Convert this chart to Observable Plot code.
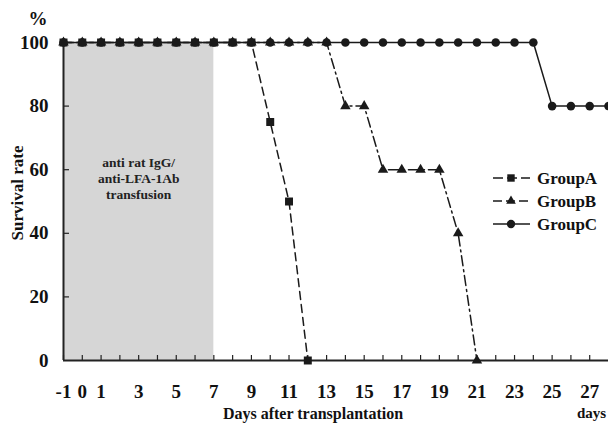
<!DOCTYPE html>
<html><head><meta charset="utf-8">
<script src="https://cdn.jsdelivr.net/npm/d3@7"></script>
<script src="https://cdn.jsdelivr.net/npm/@observablehq/plot@0.6"></script>
<style>
body{margin:0;background:#fff;}
#wrap{position:relative;width:608px;height:423px;overflow:hidden;background:#fff;}
#wrap svg{position:absolute;left:0;top:0;}
</style></head><body><div id="wrap"></div>
<script>
// ---- data ----
const daysA = [-1,0,1,2,3,4,5,6,7,8,9,10,11,12];
const survivalA = [100,100,100,100,100,100,100,100,100,100,100,75,50,0];
const daysB = [-1,0,1,2,3,4,5,6,7,8,9,10,11,12,13,14,15,16,17,18,19,20,21];
const survivalB = [100,100,100,100,100,100,100,100,100,100,100,100,100,100,100,80,80,60,60,60,60,40,0];
const daysC = [-1,0,1,2,3,4,5,6,7,8,9,10,11,12,13,14,15,16,17,18,19,20,21,22,23,24,25,26,27,28];
const survivalC = [100,100,100,100,100,100,100,100,100,100,100,100,100,100,100,100,100,100,100,100,100,100,100,100,100,100,80,80,80,80];
const groupNames = ["GroupA","GroupB","GroupC"];
const tickDays = [-1,0,1,2,3,4,5,6,7,8,9,10,11,12,13,14,15,16,17,18,19,20,21,22,23,24,25,26,27];
const labelDays = [-1,0,1,3,5,7,9,11,13,15,17,19,21,23,25,27];
const yTicks = [0,20,40,60,80,100];
const yMinorTicks = [20,40,60,80];
const transfusionWindow = [{start:-1, end:7}];
const annotation = [{day:3, rate:57.5, text:"anti rat IgG/\nanti-LFA-1Ab\ntransfusion"}];

const FONT = '"Liberation Serif","Times New Roman",serif';
const dash = {GroupA:"8,5", GroupB:"10,4,2,4", GroupC:null};
const sym = {GroupA:"square", GroupB:"triangle", GroupC:"circle"};
const symR = {GroupA:4.5, GroupB:3.9, GroupC:4.3};

const toRows = (g, xs, ys) => xs.map((d,i)=>({group:g, day:d, rate:ys[i]}));
const A = toRows("GroupA", daysA, survivalA);
const B = toRows("GroupB", daysB, survivalB);
const C = toRows("GroupC", daysC, survivalC);

function series(rows, g){
  return [
    Plot.line(rows, {x:"day", y:"rate", stroke:"#1a1a1a", strokeWidth:1.5, strokeDasharray:dash[g]}),
    Plot.dot(rows, {x:"day", y:"rate", symbol:()=>sym[g], r:symR[g], fill:"#1a1a1a", stroke:"none"})
  ];
}

// tick lengths expressed through the scales (5px and 6px)
const xTickLen = 5 * 100 / 318;
const yTickLen = 6 * 29 / 545;

const chart = Plot.plot({
  width:608, height:423,
  marginLeft:63, marginRight:0, marginTop:42, marginBottom:63,
  x:{domain:[-1,28]},
  y:{domain:[0,100]},
  symbol:{type:"identity"},
  style:{fontFamily:FONT, fontWeight:"bold", fontSize:"19px", color:"#111", background:"transparent", overflow:"visible"},
  marks:[
    Plot.rect(transfusionWindow, {x1:"start", x2:"end", y1:0, y2:100, fill:"#d6d6d6"}),
    Plot.text(annotation, {x:"day", y:"rate", text:"text", fontSize:13.5, lineHeight:1.2, fill:"#222", fontWeight:"bold"}),
    Plot.ruleX(tickDays, {x:d=>d, y1:0, y2:xTickLen, stroke:"#222", strokeWidth:1.2}),
    Plot.ruleY(yMinorTicks, {y:d=>d, x1:-1, x2:-1+yTickLen, stroke:"#222", strokeWidth:1.2}),
    Plot.axisX({ticks:labelDays, tickSize:0, tickPadding:24, label:null, tickFormat:d=>String(d)}),
    Plot.axisY({ticks:yTicks, tickSize:0, tickPadding:15, label:null}),
    Plot.ruleY([0], {stroke:"#222", strokeWidth:2}),
    Plot.ruleX([-1], {y1:0, y2:100, stroke:"#222", strokeWidth:2}),
    ...series(C, "GroupC"),
    ...series(B, "GroupB"),
    ...series(A, "GroupA")
  ]
});
const wrap = document.getElementById("wrap");
wrap.appendChild(chart);

// ---- overlay: titles and legend ----
const ov = d3.select(wrap).append("svg").attr("width",608).attr("height",423)
  .style("font-family",FONT).style("font-weight","bold").style("pointer-events","none");
ov.append("text").attr("x",38).attr("y",25).attr("text-anchor","middle").attr("font-size",19).attr("fill","#111").text("%");
ov.append("text").attr("transform","translate(23,193) rotate(-90)").attr("text-anchor","middle").attr("font-size",17).attr("fill","#111").text("Survival rate");
ov.append("text").attr("x",313).attr("y",419).attr("text-anchor","middle").attr("font-size",16).attr("fill","#111").text("Days after transplantation");
ov.append("text").attr("x",577).attr("y",418).attr("font-size",15).attr("fill","#111").text("days");

const legY = [178,201,224];
groupNames.forEach((g,i)=>{
  const y = legY[i];
  ov.append("line").attr("x1",493).attr("x2",530).attr("y1",y).attr("y2",y)
    .attr("stroke","#1a1a1a").attr("stroke-width",1.5).attr("stroke-dasharray", g==="GroupB" ? "9,4,0,0" : (g==="GroupA" ? "10,4" : null));
  const s = d3.symbol().type(g==="GroupA"?d3.symbolSquare:(g==="GroupB"?d3.symbolTriangle:d3.symbolCircle)).size(g==="GroupB"?40:55);
  ov.append("path").attr("d",s()).attr("transform",`translate(511,${y})`).attr("fill","#1a1a1a");
  ov.append("text").attr("x",537).attr("y",y+6).attr("font-size",17).attr("fill","#111").text(g);
});
</script></body></html>
